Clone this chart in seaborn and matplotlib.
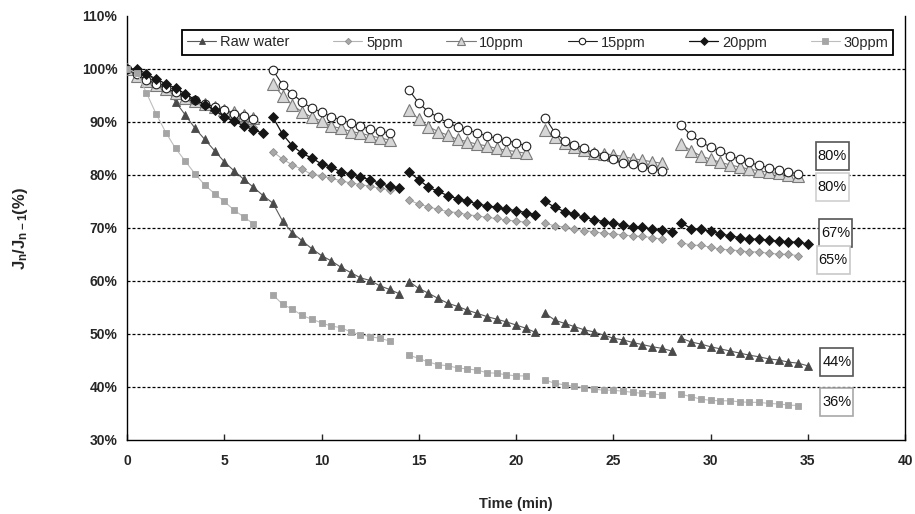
import numpy as np
import pandas as pd
import matplotlib
matplotlib.use("Agg")
import matplotlib.pyplot as plt
from matplotlib.patches import Rectangle
import seaborn as sns

# ---------------- data ----------------
step = 0.5
cycle_starts = [0.0, 7.5, 14.5, 21.5, 28.5]
raw_starts = [0.0, 14.5, 21.5, 28.5]

raw_water = [
    [100, 99.6, 98.9, 97.9, 96.3, 93.8, 91.3, 88.8, 86.7, 84.6, 82.5, 80.8, 79.2, 77.7, 76.1,
     74.7, 71.3, 69.1, 67.6, 66.1, 64.8, 63.8, 62.6, 61.6, 60.6, 60.1, 59.1, 58.4, 57.6],
    [59.9, 58.6, 57.7, 56.7, 55.8, 55.2, 54.5, 53.9, 53.3, 52.8, 52.3, 51.7, 51.1, 50.3],
    [53.9, 52.6, 52.0, 51.4, 50.8, 50.4, 49.8, 49.2, 48.9, 48.4, 48.0, 47.6, 47.3, 46.8],
    [49.2, 48.5, 48.1, 47.6, 47.2, 46.8, 46.4, 46.0, 45.7, 45.3, 45.1, 44.7, 44.5, 44.0],
]
ppm5 = [
    [100, 99.2, 98.3, 97.4, 96.5, 95.6, 94.7, 93.8, 93.0, 92.2, 91.4, 90.6, 89.8, 89.1],
    [84.4, 83.0, 81.9, 81.1, 80.1, 79.8, 79.4, 78.9, 78.5, 78.2, 77.9, 77.5, 77.2],
    [75.3, 74.5, 74.0, 73.5, 73.1, 72.9, 72.5, 72.3, 72.0, 71.8, 71.5, 71.3, 71.1],
    [70.9, 70.4, 70.2, 69.8, 69.5, 69.3, 69.0, 68.9, 68.7, 68.5, 68.4, 68.2, 67.9],
    [67.2, 66.8, 66.7, 66.4, 66.0, 65.9, 65.7, 65.5, 65.5, 65.2, 65.1, 65.0, 64.8],
]
ppm10 = [
    [100, 98.7, 97.8, 97.0, 96.2, 95.4, 94.6, 94.0, 93.4, 92.9, 92.3, 91.8, 91.3, 90.7],
    [97.2, 94.9, 93.2, 91.9, 90.9, 90.2, 89.2, 88.8, 88.2, 87.9, 87.4, 87.0, 86.6],
    [92.3, 90.5, 89.1, 88.2, 87.5, 86.7, 86.3, 85.8, 85.5, 85.0, 84.7, 84.4, 84.1],
    [88.5, 87.2, 86.0, 85.3, 84.8, 84.2, 84.0, 83.8, 83.5, 83.1, 82.8, 82.5, 82.2],
    [85.8, 84.6, 83.6, 83.0, 82.4, 81.9, 81.5, 81.1, 80.8, 80.5, 80.3, 80.0, 79.8],
]
ppm15 = [
    [100, 99.0, 98.0, 97.2, 96.4, 95.6, 94.8, 94.1, 93.4, 92.8, 92.2, 91.6, 91.1, 90.6],
    [99.8, 97.0, 95.3, 93.8, 92.6, 91.9, 91.0, 90.4, 89.8, 89.2, 88.7, 88.3, 87.9],
    [96.0, 93.6, 91.9, 90.9, 89.8, 89.1, 88.5, 87.9, 87.4, 86.9, 86.5, 86.1, 85.5],
    [90.8, 88.0, 86.5, 85.7, 85.0, 84.1, 83.5, 83.0, 82.3, 82.0, 81.6, 81.1, 80.8],
    [89.4, 87.5, 86.2, 85.3, 84.5, 83.6, 83.0, 82.4, 81.8, 81.4, 81.0, 80.6, 80.2],
]
ppm20 = [
    [100, 100.0, 99.1, 98.1, 97.2, 96.4, 95.3, 94.2, 93.3, 92.3, 91.0, 90.1, 89.3, 88.5, 87.9],
    [90.9, 87.7, 85.5, 84.1, 83.2, 82.1, 81.5, 80.6, 80.2, 79.6, 79.1, 78.4, 77.9, 77.5],
    [80.6, 79.1, 77.7, 76.9, 76.1, 75.5, 75.1, 74.5, 74.2, 73.9, 73.5, 73.3, 72.9, 72.5],
    [75.0, 73.9, 73.1, 72.6, 72.0, 71.6, 71.2, 70.9, 70.6, 70.2, 70.1, 69.8, 69.6, 69.3],
    [71.0, 69.9, 69.8, 69.4, 68.9, 68.5, 68.2, 67.9, 67.9, 67.7, 67.5, 67.4, 67.3, 67.0],
]
ppm30 = [
    [100, 99.3, 95.5, 91.5, 88.0, 85.0, 82.6, 80.2, 78.1, 76.5, 75.0, 73.4, 72.1, 70.8],
    [57.4, 55.6, 54.7, 53.5, 52.8, 52.1, 51.5, 51.2, 50.4, 49.9, 49.5, 49.2, 48.7],
    [46.0, 45.4, 44.7, 44.2, 44.0, 43.6, 43.4, 43.2, 42.7, 42.6, 42.3, 42.1, 42.1],
    [41.3, 40.7, 40.4, 40.1, 39.9, 39.6, 39.4, 39.4, 39.2, 39.0, 38.8, 38.7, 38.5],
    [38.6, 38.2, 37.7, 37.5, 37.4, 37.4, 37.2, 37.1, 37.1, 36.9, 36.8, 36.6, 36.5],
]

series_names = ["Raw water", "5ppm", "10ppm", "15ppm", "20ppm", "30ppm"]
series_data = [raw_water, ppm5, ppm10, ppm15, ppm20, ppm30]
series_starts = [raw_starts, cycle_starts, cycle_starts, cycle_starts, cycle_starts, cycle_starts]

final_labels = ["80%", "80%", "67%", "65%", "44%", "36%"]

x_ticks = [0, 5, 10, 15, 20, 25, 30, 35, 40]
y_ticks = [30, 40, 50, 60, 70, 80, 90, 100, 110]
grid_levels = [40, 50, 60, 70, 80, 90, 100]

# ---------------- long table ----------------
rows = []
for name, starts, segs in zip(series_names, series_starts, series_data):
    for k, (s, vals) in enumerate(zip(starts, segs)):
        for i, v in enumerate(vals):
            rows.append((name, k, s + step * i, v))
df = pd.DataFrame(rows, columns=["series", "cycle", "time", "value"])

# ---------------- style ----------------
sns.set_style("ticks")
plt.rcParams["font.family"] = ["Liberation Sans", "DejaVu Sans"]
plt.rcParams["mathtext.fontset"] = "custom"
plt.rcParams["mathtext.rm"] = "Liberation Sans:bold"
plt.rcParams["mathtext.it"] = "Liberation Sans:bold"
plt.rcParams["mathtext.default"] = "rm"

styles = {
    "Raw water": dict(color="#5a5a5a", lw=0.8, marker="^", ms=6, mfc="#4a4a4a", mec="#4a4a4a", mew=0.6),
    "5ppm":      dict(color="#b4b4b4", lw=0.8, marker="D", ms=4.3, mfc="#a8a8a8", mec="#8e8e8e", mew=0.6),
    "10ppm":     dict(color="#7a7a7a", lw=0.8, marker="^", ms=8, mfc="#d6d6d6", mec="#7a7a7a", mew=0.8),
    "15ppm":     dict(color="#202020", lw=0.8, marker="o", ms=6.2, mfc="white", mec="#202020", mew=0.8),
    "20ppm":     dict(color="#101010", lw=0.9, marker="D", ms=5.6, mfc="#151515", mec="#151515", mew=0.6),
    "30ppm":     dict(color="#bdbdbd", lw=0.8, marker="s", ms=5, mfc="#a5a5a5", mec="#a5a5a5", mew=0.6),
}

fig = plt.figure(figsize=(9.15, 5.14), dpi=100)
ax = fig.add_axes([127 / 915, 1 - 440 / 514, 778 / 915, 424 / 514])

handles = []
for z, name in enumerate(series_names):
    st = styles[name]
    n_before = len(ax.lines)
    sns.lineplot(data=df[df.series == name], x="time", y="value", units="cycle",
                 estimator=None, ax=ax, legend=False, sort=False,
                 color=st["color"], lw=st["lw"], marker=st["marker"], markersize=st["ms"],
                 markerfacecolor=st["mfc"], markeredgecolor=st["mec"],
                 markeredgewidth=st["mew"], zorder=3 + z)
    handles.append(ax.lines[n_before])

ax.set_ylim(30, 110)
ax.set_xlim(0, 40)
ax.set_xticks(x_ticks)
ax.set_yticks(y_ticks)
ax.set_xticklabels([str(t) for t in x_ticks])
ax.set_yticklabels([f"{t}%" for t in y_ticks])

# dashed horizontal guide lines
for g in grid_levels:
    ax.axhline(g, color="black", lw=0.9, linestyle=(0, (2.4, 1.6)), zorder=1)

for sp in ["left", "bottom", "right"]:
    ax.spines[sp].set_color("black")
    ax.spines[sp].set_linewidth(1.0)
ax.spines["top"].set_visible(False)

ax.tick_params(axis="x", direction="in", length=4, width=1, pad=10, labelsize=10)
ax.tick_params(axis="y", length=0, pad=7, labelsize=10)
for lab in ax.get_xticklabels() + ax.get_yticklabels():
    lab.set_fontweight("bold")

ax.set_xlabel("Time (min)", fontsize=10.5, fontweight="bold")
ax.set_ylabel("J$_{n}$/J$_{n-1}$(%)", fontsize=12, fontweight="bold")
ax.xaxis.set_label_coords(0.5, -0.134)
ax.yaxis.set_label_coords(-0.125, 0.5)

leg = ax.legend(handles, series_names, loc="center", bbox_to_anchor=(0.528, 0.9375),
                ncol=6, frameon=True, fancybox=False, framealpha=1, edgecolor="black",
                fontsize=10.5, handlelength=2.0, handletextpad=0.25, columnspacing=3.0,
                borderpad=0.35, markerscale=0.75)
leg.get_frame().set_linewidth(1.3)

# end-value boxes
ann_x = [36.25, 36.25, 36.45, 36.3, 36.5, 36.5]
ann_y = [83.6, 77.7, 69.1, 64.0, 44.7, 37.2]
ann_ec = ["#555555", "#cfcfcf", "#555555", "#c8c8c8", "#555555", "#a8a8a8"]
box_w, box_h = 1.70, 5.3
for x, y, t, ec in zip(ann_x, ann_y, final_labels, ann_ec):
    ax.add_patch(Rectangle((x - box_w / 2, y - box_h / 2), box_w, box_h, fc="white",
                           ec=ec, lw=1.2, zorder=19))
    ax.text(x, y, t, ha="center", va="center", fontsize=10.5, color="#111111", zorder=20)

fig.savefig("out.png", dpi=100)
